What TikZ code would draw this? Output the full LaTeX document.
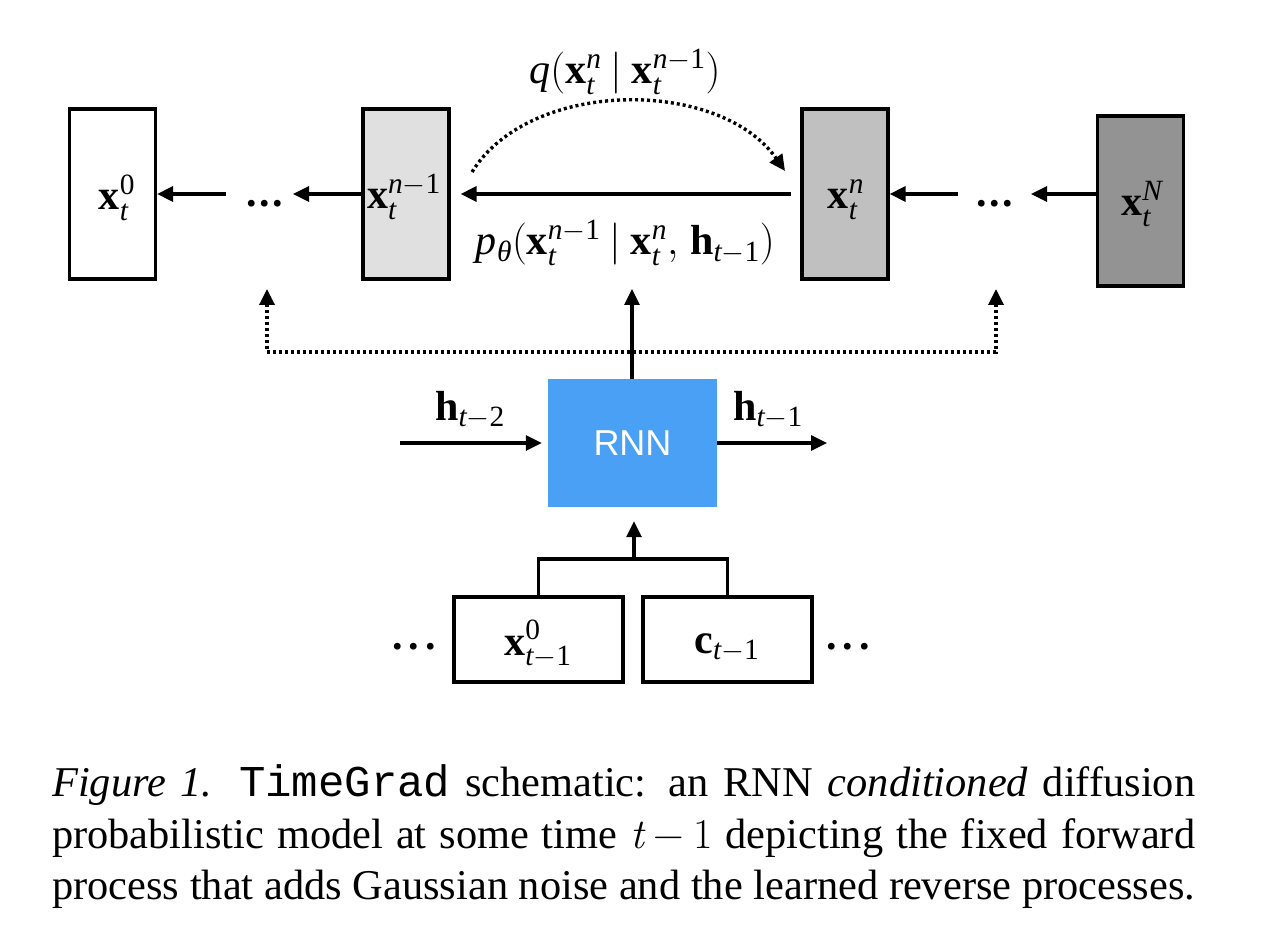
\documentclass[tikz,border=0pt]{standalone}
\usepackage{fix-cm}
\usepackage{mathspec}
\setmainfont{Liberation Serif}
\setmathsfont(Digits,Latin,Greek){Liberation Serif}
\setmathrm{Liberation Serif}
\newfontfamily\sansf{Liberation Sans}
\newfontfamily\monof{Liberation Mono}
\newfontfamily\lmrom{Latin Modern Roman}
\usetikzlibrary{arrows.meta}
\definecolor{rnnblue}{RGB}{74,160,245}
\definecolor{gA}{RGB}{224,224,224}
\definecolor{gB}{RGB}{192,192,192}
\definecolor{gC}{RGB}{147,147,147}
\newcommand{\lp}{\mathrm{(}}
\newcommand{\rp}{\mathrm{)}}
\newcommand{\gv}{\mskip4mu\mathrm{|}\mskip4mu}
\newcommand{\tdots}{\textbf{.\hspace{2.3pt}.\hspace{2.3pt}.}}
\newcommand{\bdots}{\textbf{.\hspace{6pt}.\hspace{6pt}.}}
\tikzset{
  lbl/.style={font=\fontsize{42}{48}\selectfont, inner sep=0pt},
  xbox/.style={draw=black, line width=3.2pt, minimum width=86pt, minimum height=170pt, inner sep=0pt},
  wbox/.style={draw=black, line width=3.2pt, minimum width=169pt, minimum height=85pt, inner sep=0pt},
  arr/.style={line width=3.2pt, -{Triangle[length=16pt,width=15pt]}},
  dotarr/.style={line width=3.4pt, dash pattern=on 3pt off 3pt, -{Triangle[length=16pt,width=15pt]}},
  dotboth/.style={line width=3.4pt, dash pattern=on 3pt off 3pt, {Triangle[length=16pt,width=15pt]}-{Triangle[length=16pt,width=15pt]}},
  plain/.style={line width=3.2pt},
  captxt/.style={anchor=base west, inner sep=0pt, font=\fontsize{42.4}{52}\selectfont}
}
\begin{document}
\begin{tikzpicture}[x=1pt,y=-1pt]
\useasboundingbox[fill=white] (0,0) rectangle (1262,936);
% top row boxes
\node[xbox] (b0) at (112.5,194) {};
\node[xbox,fill=gA] (bn1) at (406,194) {};
\node[xbox,fill=gB] (bn) at (845,194) {};
\node[xbox,fill=gC] (bN) at (1140.5,201) {};
\node[lbl, anchor=base] (t0) at (117,210) {$\mathbf{x}_t^0$};
\node[lbl, anchor=base] (tn1) at (404,209) {$\mathbf{x}_t^{n-1}$};
\node[lbl, anchor=base] (tn) at (846,209) {$\mathbf{x}_t^{n}$};
\node[lbl, anchor=base] (tN) at (1142,216) {$\mathbf{x}_t^{N}$};
% dots
\node[lbl, anchor=base] (d1) at (265,207) {\tdots};
\node[lbl, anchor=base] (d2) at (995,207) {\tdots};
\coordinate (a1s) at (226,194);
\coordinate (a1e) at (293,194);
\coordinate (a2s) at (958,194);
\coordinate (a2e) at (1031,194);
\draw[arr] (a1s) -- (b0);
\draw[arr] (bn1) -- (a1e);
\draw[arr] ([xshift=-9pt]bn.west) -- ([xshift=10pt]bn1.east);
\draw[arr] (a2s) -- (bn);
\draw[arr] (bN.west |- a2e) -- (a2e);
% forward process
\coordinate (qs) at (472,172);
\coordinate (qe) at (785,171);
\draw[dotarr] (qs) .. controls (530,78) and (720,78) .. (qe);
\node[lbl, anchor=base] (ql) at (625,84) {$q\lp\mathbf{x}_t^n\gv\mathbf{x}_t^{n-1}\rp$};
\node[lbl, anchor=base] (pl) at (625,255) {$p_\theta\lp\mathbf{x}_t^{n-1}\gv\mathbf{x}_t^n\mathrm{,}\mskip5mu\mathbf{h}_{t-1}\rp$};
% RNN
\node[fill=rnnblue, minimum width=169pt, minimum height=128pt, inner sep=0pt, text=white, font=\sansf\fontsize{36}{40}\selectfont] (rnn) at (632.5,443) {RNN};
\coordinate (up) at (632,289);
\draw[arr] (rnn.north -| up) -- (up);
\coordinate (dl) at (267,289);
\coordinate (dr) at (996,289);
\coordinate (dly) at (267,352);
\coordinate (dry) at (996,352);
\draw[dotboth] (dl) -- (dly) -- (dry) -- (dr);
\coordinate (hin) at (400,443);
\coordinate (hout) at (827,443);
\draw[arr] (hin) -- ([xshift=-6pt]rnn.west);
\draw[arr] (rnn.east) -- (hout);
\node[lbl, anchor=base] (h2) at (470,420) {$\mathbf{h}_{t-2}$};
\node[lbl, anchor=base] (h1) at (768,420) {$\mathbf{h}_{t-1}$};
% bottom
\node[wbox] (bx) at (538.5,639.5) {};
\node[wbox] (bc) at (727.5,639.5) {};
\node[lbl, anchor=base] (tx) at (538,655) {$\mathbf{x}_{t-1}^0$};
\node[lbl, anchor=base] (tc) at (727,653) {$\mathbf{c}_{t-1}$};
\coordinate (j) at (634,559);
\draw[plain] (bx.north) -- (bx.north |- j) -- (bc.north |- j) -- (bc.north);
\draw[arr] (j) -- ([yshift=-14pt]rnn.south -| j);
\node[lbl, anchor=base] (cl) at (414,649) {\bdots};
\node[lbl, anchor=base] (cr) at (848,649) {\bdots};
% caption
\node[captxt] (c1) at (52,796) {\makebox[1143pt][s]{\textit{Figure 1.} {\monof\fontsize{44}{52}\selectfont TimeGrad} schematic: an RNN \textit{conditioned} diffusion}};
\node[captxt] (c2) at (52,848) {\makebox[1143pt][s]{probabilistic model at some time {\lmrom\itshape t}\hspace{0.22em}{\lmrom −}\hspace{0.22em}{\lmrom 1} depicting the fixed forward}};
\node[captxt] (c3) at (52,899) {\makebox[1143pt][s]{process that adds Gaussian noise and the learned reverse processes.}};
\end{tikzpicture}
\end{document}
